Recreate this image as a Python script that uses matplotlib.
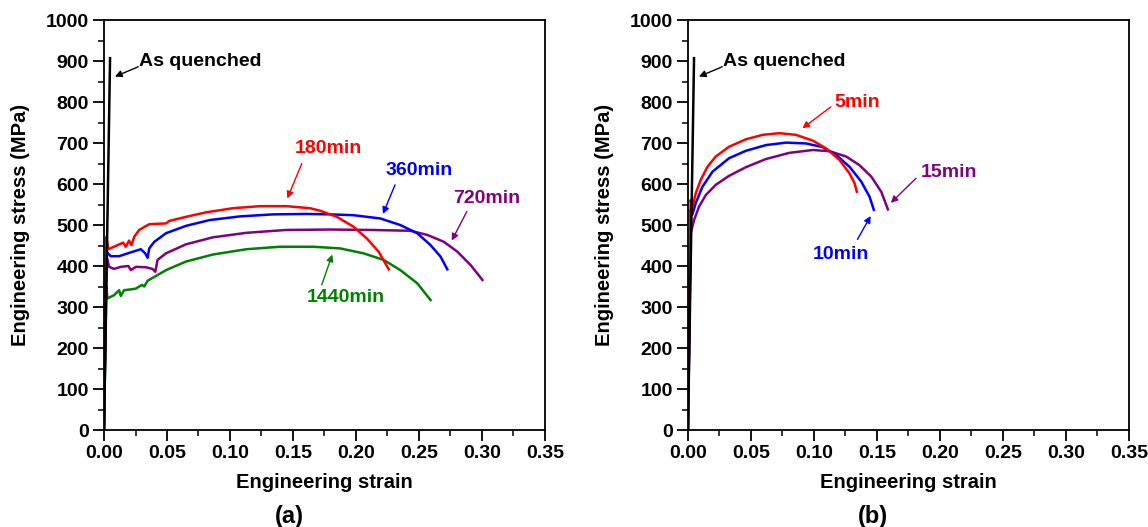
import matplotlib
matplotlib.use("Agg")
import matplotlib.pyplot as plt
from matplotlib.ticker import MultipleLocator

plt.rcParams['font.family'] = ['Liberation Sans', 'DejaVu Sans']
plt.rcParams['font.weight'] = 'bold'

# ---------------- data: panel (a) ----------------
aq_strain = [0.0, 0.0048]
aq_stress = [0.0, 907]

a180_strain = [0.0, 0.0019, 0.0034, 0.0093, 0.0152, 0.0173, 0.0199, 0.0218, 0.0239, 0.0279,
               0.0359, 0.0492, 0.0518, 0.0651, 0.0811, 0.1023, 0.1236, 0.1449, 0.1635,
               0.1715, 0.1848, 0.198, 0.2087, 0.218, 0.226]
a180_stress = [0.0, 471, 441, 449, 457, 447, 462, 451, 471, 488,
               502, 504, 510, 520, 531, 541, 546, 546, 541,
               535, 520, 496, 467, 435, 392]

a360_strain = [0.0, 0.0019, 0.0053, 0.012, 0.0199, 0.0292, 0.0327, 0.0346, 0.0359, 0.0399,
               0.0492, 0.0651, 0.0837, 0.1077, 0.1342, 0.1608, 0.1794, 0.198, 0.2193,
               0.2352, 0.2486, 0.2592, 0.2671, 0.2725]
a360_stress = [0.0, 435, 424, 424, 432, 441, 431, 420, 443, 459,
               480, 498, 512, 521, 526, 527, 526, 524, 516,
               500, 480, 451, 423, 392]

a720_strain = [0.0, 0.0019, 0.004, 0.008, 0.0133, 0.0194, 0.0213, 0.0253, 0.0332, 0.0385,
               0.0407, 0.0425, 0.0492, 0.0651, 0.0864, 0.113, 0.1449, 0.1794, 0.2113,
               0.2432, 0.2565, 0.2698, 0.2805, 0.2911, 0.3004]
a720_stress = [0.0, 427, 398, 393, 398, 400, 390, 398, 397, 393,
               386, 415, 431, 453, 470, 481, 488, 489, 488,
               486, 476, 459, 435, 402, 366]

a1440_strain = [0.0, 0.0019, 0.0027, 0.008, 0.012, 0.0133, 0.0159, 0.0213, 0.0253, 0.0301,
                0.0319, 0.0346, 0.0492, 0.0651, 0.0864, 0.113, 0.1396, 0.1661, 0.1874,
                0.206, 0.2219, 0.2352, 0.2486, 0.2592]
a1440_stress = [0.0, 350, 321, 329, 341, 327, 341, 343, 345, 354,
                350, 364, 390, 411, 428, 441, 447, 447, 443,
                431, 415, 390, 358, 317]

# ---------------- data: panel (b) ----------------
b5_strain = [0.0, 0.0021, 0.0034, 0.0061, 0.0101, 0.0154, 0.022, 0.0326, 0.0459, 0.0592,
             0.0725, 0.0857, 0.099, 0.1096, 0.1202, 0.1282, 0.1322, 0.134]
b5_stress = [0.0, 561, 541, 577, 610, 642, 667, 691, 709, 720,
             724, 720, 706, 687, 659, 626, 602, 581]

b10_strain = [0.0, 0.0021, 0.0034, 0.0061, 0.0114, 0.0194, 0.0326, 0.0459, 0.0619, 0.0778,
              0.0937, 0.1069, 0.1176, 0.1282, 0.1375, 0.1441, 0.1475]
b10_stress = [0.0, 537, 525, 553, 593, 630, 663, 681, 695, 701,
              699, 690, 671, 642, 606, 569, 537]

b15_strain = [0.0, 0.0021, 0.0048, 0.0088, 0.0141, 0.022, 0.0326, 0.0459, 0.0619, 0.0804,
              0.099, 0.1123, 0.1256, 0.1361, 0.1455, 0.1534, 0.1587]
b15_stress = [0.0, 480, 512, 545, 573, 598, 620, 641, 661, 676,
              683, 680, 667, 646, 618, 581, 538]

x_ticks = [0.00, 0.05, 0.10, 0.15, 0.20, 0.25, 0.30, 0.35]
y_ticks = [0, 100, 200, 300, 400, 500, 600, 700, 800, 900, 1000]

RED, BLUE, PURPLE, GREEN, BLACK = '#ff0000', '#0000ff', '#800080', '#008000', '#000000'

fig = plt.figure(figsize=(11.48, 5.27), dpi=100)
axa = fig.add_axes([0.0906, 0.184, 0.3841, 0.778])
axb = fig.add_axes([0.5993, 0.184, 0.3841, 0.778])


def style(ax, panel):
    ax.set_xlim(0, 0.35)
    ax.set_ylim(0, 1000)
    ax.set_xticks(x_ticks)
    ax.set_xticklabels([f"{v:.2f}" for v in x_ticks])
    ax.set_yticks(y_ticks)
    ax.xaxis.set_minor_locator(MultipleLocator(0.025))
    ax.yaxis.set_minor_locator(MultipleLocator(50))
    ax.tick_params(which='major', direction='out', length=8, width=1.3,
                   labelsize=14, top=False, right=False, pad=3)
    ax.tick_params(which='minor', direction='out', length=4.5, width=1.1,
                   top=False, right=False)
    for lab in ax.get_xticklabels() + ax.get_yticklabels():
        lab.set_fontweight('bold')
    for s in ax.spines.values():
        s.set_linewidth(1.3)
    ax.set_xlabel('Engineering strain', fontsize=14.5, fontweight='bold', labelpad=8)
    ax.set_ylabel('Engineering stress (MPa)', fontsize=14.5, fontweight='bold', labelpad=11)
    ax.text(0.42, -0.212, panel, transform=ax.transAxes, ha='center', va='center',
            fontsize=17, fontweight='bold')


def note(ax, text, color, text_xy, tail, tip, ha='center'):
    ax.text(text_xy[0], text_xy[1], text, color=color, fontsize=14, fontweight='bold',
            ha=ha, va='center')
    ax.annotate('', xy=tip, xytext=tail,
                arrowprops=dict(arrowstyle='-|>', color=color, lw=1.0,
                                mutation_scale=10, shrinkA=0, shrinkB=0))


lw = 1.8
axa.plot(a1440_strain, a1440_stress, color=GREEN, lw=lw)
axa.plot(a720_strain, a720_stress, color=PURPLE, lw=lw)
axa.plot(a360_strain, a360_stress, color=BLUE, lw=lw)
axa.plot(a180_strain, a180_stress, color=RED, lw=lw)
axa.plot(aq_strain, aq_stress, color=BLACK, lw=lw)
style(axa, '(a)')
note(axa, 'As quenched', BLACK, (0.0278, 898), (0.0272, 886), (0.0087, 862), ha='left')
note(axa, '180min', RED, (0.178, 687), (0.157, 650), (0.1455, 565))
note(axa, '360min', BLUE, (0.250, 634), (0.231, 598), (0.2214, 527))
note(axa, '720min', PURPLE, (0.304, 565), (0.288, 533), (0.276, 462))
note(axa, '1440min', GREEN, (0.192, 324), (0.1728, 354), (0.1812, 428))

axb.plot(b15_strain, b15_stress, color=PURPLE, lw=lw)
axb.plot(b10_strain, b10_stress, color=BLUE, lw=lw)
axb.plot(b5_strain, b5_stress, color=RED, lw=lw)
axb.plot(aq_strain, aq_stress, color=BLACK, lw=lw)
style(axb, '(b)')
note(axb, 'As quenched', BLACK, (0.0278, 898), (0.0272, 886), (0.0087, 862), ha='left')
note(axb, '5min', RED, (0.1345, 798), (0.1133, 788), (0.0908, 736))
note(axb, '15min', PURPLE, (0.2068, 628), (0.181, 614), (0.161, 554))
note(axb, '10min', BLUE, (0.1213, 427), (0.1345, 465), (0.145, 522))

fig.savefig('out.png', dpi=100)
